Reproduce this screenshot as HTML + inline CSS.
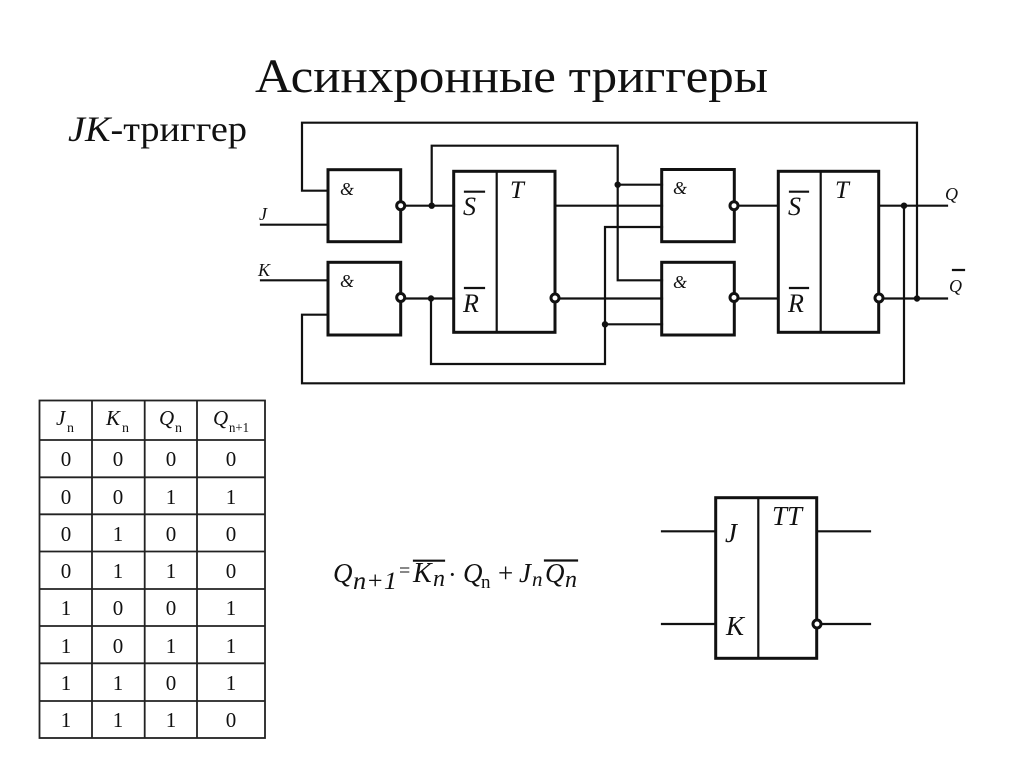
<!DOCTYPE html>
<html>
<head>
<meta charset="utf-8">
<title>Асинхронные триггеры</title>
<style>
html,body{margin:0;padding:0;background:#fff;width:1024px;height:768px;overflow:hidden}
svg{display:block}
text{font-family:"Liberation Serif",serif;fill:#111}
.i{font-style:italic}
.w{fill:none;stroke:#111;stroke-width:2.2;stroke-linejoin:miter;stroke-linecap:square}
.b{fill:none;stroke:#111;stroke-width:3}
.t{fill:none;stroke:#222;stroke-width:1.8}
.d{fill:#111}
.c{fill:#fff;stroke:#111;stroke-width:3}
.m{text-anchor:middle}
</style>
</head>
<body>
<svg width="1024" height="768" viewBox="0 0 1024 768" xmlns="http://www.w3.org/2000/svg">
<text x="255" y="92" font-size="48" textLength="513" lengthAdjust="spacingAndGlyphs">Асинхронные триггеры</text>
<text x="68" y="141" font-size="36" textLength="179" lengthAdjust="spacingAndGlyphs"><tspan class="i">JK</tspan>-триггер</text>

<!-- wires -->
<path class="w" d="M328 190.7H302V122.7H917V298"/>
<path class="w" d="M261 224.7H328"/>
<path class="w" d="M261 280.3H328"/>
<path class="w" d="M328 314.7H302V383.3H904V205.7"/>
<path class="w" d="M405 205.7H454"/>
<path class="w" d="M431.7 205.7V145.7H617.7V280.3H662"/>
<path class="w" d="M617.7 184.7H662"/>
<path class="w" d="M405 298.5H454"/>
<path class="w" d="M431 298.5V364H605V227H662"/>
<path class="w" d="M605 324.3H662"/>
<path class="w" d="M555 205.7H662"/>
<path class="w" d="M559 298.5H662"/>
<path class="w" d="M738 205.7H778"/>
<path class="w" d="M738 298.5H778"/>
<path class="w" d="M879 205.7H947"/>
<path class="w" d="M883 298.5H947"/>

<!-- gates -->
<rect class="b" x="328" y="169.7" width="72.7" height="72"/>
<rect class="b" x="328" y="262.3" width="72.7" height="72.7"/>
<rect class="b" x="661.7" y="169.5" width="72.6" height="72.2"/>
<rect class="b" x="661.7" y="262.3" width="72.6" height="72.7"/>

<!-- flip-flops -->
<rect class="b" x="453.7" y="171.3" width="101.3" height="161"/>
<path class="w" d="M496.7 171.3V332.3"/>
<rect class="b" x="778.3" y="171.3" width="100.4" height="161"/>
<path class="w" d="M820.7 171.3V332.3"/>

<!-- bubbles -->
<circle class="c" cx="400.7" cy="205.7" r="4"/>
<circle class="c" cx="400.7" cy="297.5" r="4"/>
<circle class="c" cx="734" cy="205.7" r="4"/>
<circle class="c" cx="734" cy="297.5" r="4"/>
<circle class="c" cx="555" cy="298" r="4"/>
<circle class="c" cx="879" cy="298" r="4"/>

<!-- junctions -->
<circle class="d" cx="431.7" cy="205.7" r="3.2"/>
<circle class="d" cx="431" cy="298.5" r="3.2"/>
<circle class="d" cx="617.7" cy="184.7" r="3.2"/>
<circle class="d" cx="605" cy="324.3" r="3.2"/>
<circle class="d" cx="904" cy="205.7" r="3.2"/>
<circle class="d" cx="917" cy="298.5" r="3.2"/>

<!-- diagram labels -->
<g class="i">
<text x="259" y="220" font-size="18">J</text>
<text x="258" y="276" font-size="18">K</text>
<text x="340" y="195" font-size="18">&amp;</text>
<text x="340" y="287" font-size="18">&amp;</text>
<text x="673" y="194" font-size="18">&amp;</text>
<text x="673" y="288" font-size="18">&amp;</text>
<text x="510" y="198" font-size="25">T</text>
<text x="835" y="198" font-size="25">T</text>
<text x="463" y="215" font-size="26">S</text>
<text x="463" y="312" font-size="26">R</text>
<text x="788" y="215" font-size="26">S</text>
<text x="788" y="312" font-size="26">R</text>
<text x="945" y="200" font-size="18">Q</text>
<text x="949" y="292" font-size="18">Q</text>
</g>
<path class="w" stroke-linecap="butt" d="M465 191.7H484M465 288H484M790 191.7H808M790 288H808M953 270H964"/>

<!-- table -->
<rect class="t" x="39.500" y="400.500" width="225.500" height="337.500"/>
<path class="t" d="M92 400.500V738M144.700 400.500V738M197 400.500V738M39.500 440H265M39.500 477.300H265M39.500 514.300H265M39.500 551.500H265M39.500 589H265M39.500 626H265M39.500 663.300H265M39.500 701H265"/>
<g font-size="21">
<text x="56" y="425" class="i">J</text><text x="67" y="432" font-size="14">n</text>
<text x="106" y="425" class="i">K</text><text x="122" y="432" font-size="14">n</text>
<text x="159" y="425" class="i">Q</text><text x="175" y="432" font-size="14">n</text>
<text x="213" y="425" class="i">Q</text><text x="229" y="432" font-size="14" textLength="20" lengthAdjust="spacingAndGlyphs">n+1</text>
</g>
<g font-size="21" class="m">
<text x="66" y="466">0</text><text x="118" y="466">0</text><text x="171" y="466">0</text><text x="231" y="466">0</text>
<text x="66" y="504">0</text><text x="118" y="504">0</text><text x="171" y="504">1</text><text x="231" y="504">1</text>
<text x="66" y="541">0</text><text x="118" y="541">1</text><text x="171" y="541">0</text><text x="231" y="541">0</text>
<text x="66" y="578">0</text><text x="118" y="578">1</text><text x="171" y="578">1</text><text x="231" y="578">0</text>
<text x="66" y="615">1</text><text x="118" y="615">0</text><text x="171" y="615">0</text><text x="231" y="615">1</text>
<text x="66" y="653">1</text><text x="118" y="653">0</text><text x="171" y="653">1</text><text x="231" y="653">1</text>
<text x="66" y="690">1</text><text x="118" y="690">1</text><text x="171" y="690">0</text><text x="231" y="690">1</text>
<text x="66" y="727">1</text><text x="118" y="727">1</text><text x="171" y="727">1</text><text x="231" y="727">0</text>
</g>

<!-- formula -->
<text x="333" y="582" font-size="27" class="i">Q</text>
<text x="353" y="589" font-size="25" class="i" textLength="44" lengthAdjust="spacingAndGlyphs">n+1</text>
<text x="399" y="577" font-size="20">=</text>
<text x="413" y="582" font-size="28" class="i">K</text>
<text x="433" y="586" font-size="24" class="i">n</text>
<text x="448" y="583" font-size="26">·</text>
<text x="463" y="582" font-size="27" class="i">Q</text>
<text x="481" y="588" font-size="19">n</text>
<text x="498" y="582" font-size="27">+</text>
<text x="519" y="582" font-size="27" class="i">J</text>
<text x="532" y="586" font-size="21" class="i">n</text>
<text x="545" y="582" font-size="27" class="i">Q</text>
<text x="565" y="587" font-size="24" class="i">n</text>
<path class="w" stroke-linecap="butt" d="M414 560.700H444M545 560.500H577"/>

<!-- block symbol -->
<rect class="b" x="715.700" y="497.700" width="101" height="160.600"/>
<path class="w" d="M758.300 497.700V658.300"/>
<path class="w" d="M662 531.300H715M662 624H715M817 531.300H870M821 624H870"/>
<circle class="c" cx="817" cy="624" r="4"/>
<text x="725" y="542" font-size="27" class="i">J</text>
<text x="726" y="635" font-size="27" class="i">K</text>
<text x="772" y="525" font-size="27" class="i">TT</text>
</svg>
</body>
</html>
